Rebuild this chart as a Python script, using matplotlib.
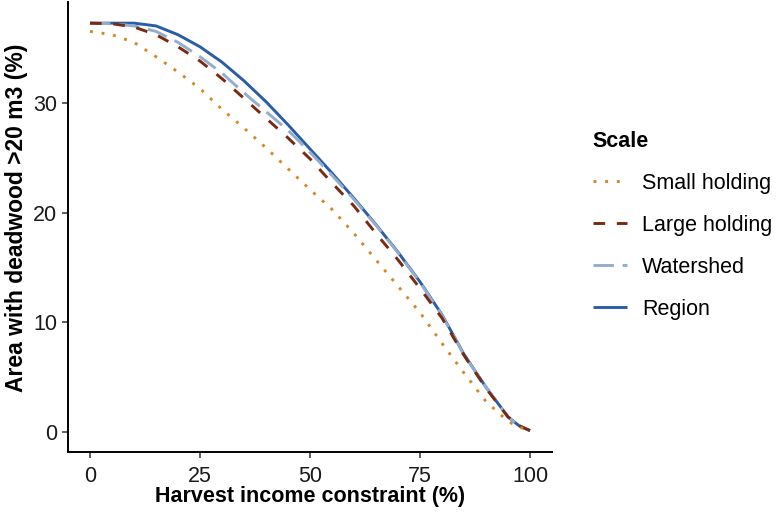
import matplotlib
matplotlib.use("Agg")
import matplotlib.pyplot as plt
from matplotlib.lines import Line2D

plt.rcParams['font.family'] = ['Liberation Sans', 'DejaVu Sans']

x = [0, 5, 10, 15, 20, 25, 30, 35, 40, 45, 50, 55, 60, 65, 70, 75, 80, 85, 90, 95, 97.5, 100]

small_holding = [36.5, 36.2, 35.5, 34.2, 32.8, 31.3, 29.4, 27.7, 25.9, 24.0, 22.1, 20.3,
                 18.1, 15.7, 13.3, 10.9, 8.1, 5.4, 2.8, 1.0, 0.45, 0.2]
large_holding = [37.25, 37.2, 36.9, 36.2, 35.1, 33.8, 32.2, 30.4, 28.6, 26.8, 24.9, 22.7,
                 20.6, 18.1, 15.7, 13.1, 10.4, 7.0, 4.0, 1.4, 0.6, 0.15]
watershed = [37.25, 37.2, 37.0, 36.5, 35.5, 34.2, 32.7, 30.9, 29.2, 27.5, 25.5, 23.4,
             21.2, 18.85, 16.35, 13.65, 10.65, 7.05, 4.1, 1.4, 0.6, 0.15]
region = [37.25, 37.25, 37.25, 37.0, 36.2, 35.1, 33.7, 32.0, 30.1, 28.0, 25.8, 23.6,
          21.3, 18.9, 16.4, 13.7, 10.7, 7.1, 4.1, 1.4, 0.6, 0.15]

labels = ["Small holding", "Large holding", "Watershed", "Region"]
colors = ["#D08A2A", "#7A2A10", "#93ADCD", "#2A5DA8"]
dashes = [(1, 3), (4, 4), (7, 3), None]
series = [small_holding, large_holding, watershed, region]

fig = plt.figure(figsize=(7.77, 5.14), dpi=100)
ax = fig.add_axes([0.0875, 0.1206, 0.6229, 0.876])

lw = 2.1
for i in reversed(range(4)):
    kw = dict(color=colors[i], lw=lw, solid_capstyle='butt', dash_capstyle='butt', zorder=2 + (3 - i))
    if dashes[i] is None:
        ax.plot(x, series[i], linestyle='-', **kw)
    else:
        ax.plot(x, series[i], linestyle=(0, dashes[i]), **kw)

handles = []
for i in range(4):
    if dashes[i] is None:
        h = Line2D([], [], color=colors[i], lw=lw, linestyle='-', solid_capstyle='butt')
    else:
        h = Line2D([], [], color=colors[i], lw=lw, linestyle=(0, dashes[i]), dash_capstyle='butt')
    handles.append(h)

ax.set_xlim(-5, 105)
ax.set_ylim(-1.8, 39.2)
ax.set_xticks([0, 25, 50, 75, 100])
ax.set_yticks([0, 10, 20, 30])
for s in ['top', 'right']:
    ax.spines[s].set_visible(False)
for s in ['left', 'bottom']:
    ax.spines[s].set_linewidth(1.4)
    ax.spines[s].set_color('black')
ax.tick_params(axis='both', direction='out', length=4, width=1.1, color='#333333',
               labelsize=15.5, labelcolor='#1a1a1a')
ax.tick_params(axis='x', pad=6)
ax.tick_params(axis='y', pad=4)
ax.set_xlabel("Harvest income constraint (%)", fontsize=15.5, fontweight='bold')
ax.xaxis.set_label_coords(0.5, -0.11)
ax.xaxis.label.set_va('baseline')
ax.set_ylabel("Area with deadwood >20 m3 (%)", fontsize=16.5, fontweight='bold')
ax.yaxis.set_label_coords(-0.082, 0.521)

leg = fig.legend(handles, labels, loc='upper left', bbox_to_anchor=(0.763, 0.745),
                 frameon=False, fontsize=15.5, title="Scale", handlelength=1.6,
                 handletextpad=0.7, labelspacing=0.97, alignment='left',
                 borderpad=0, borderaxespad=0)
leg.get_title().set_fontweight('bold')
leg.get_title().set_fontsize(15.5)

fig.savefig("out.png", dpi=100)
